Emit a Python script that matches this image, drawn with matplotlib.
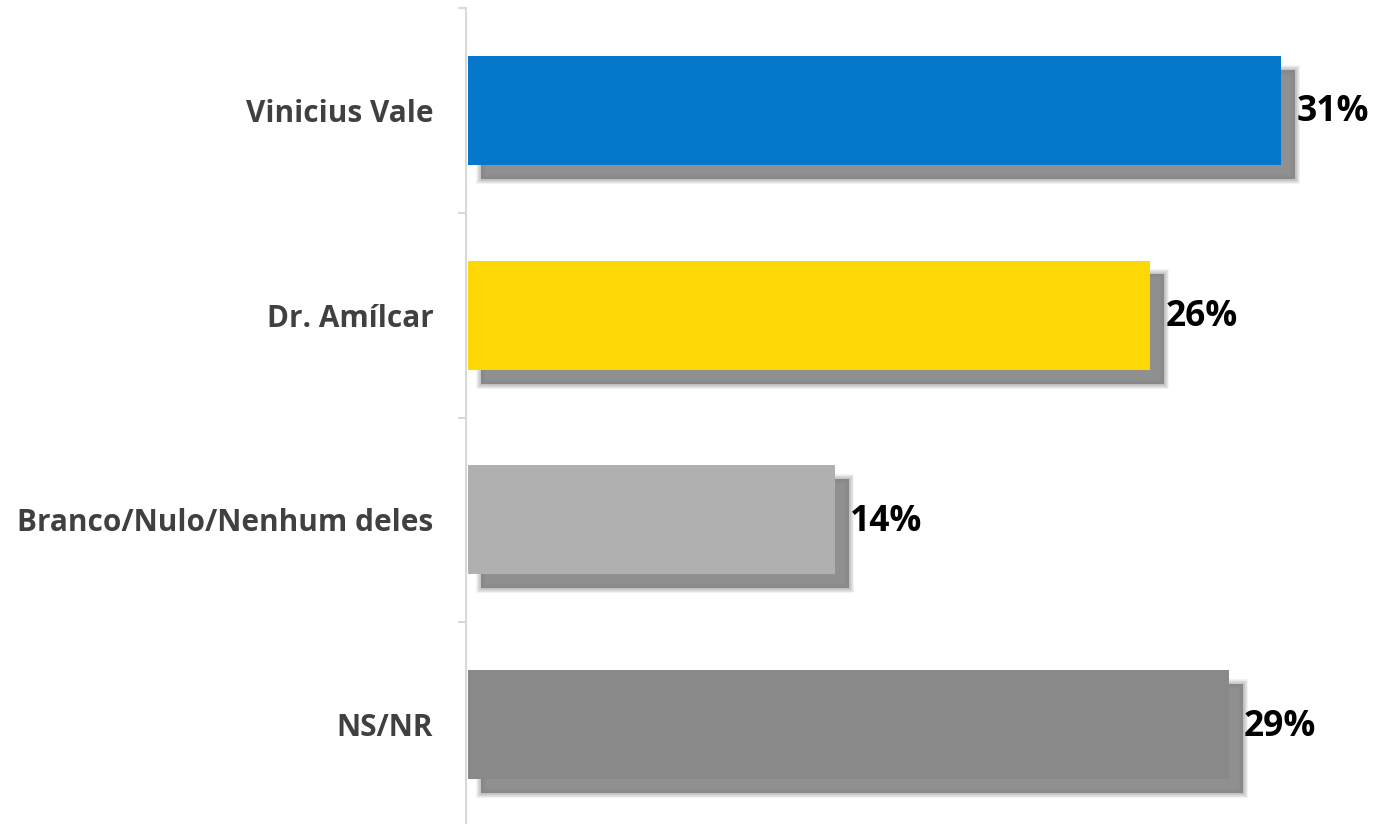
import matplotlib
matplotlib.use("Agg")
import matplotlib.pyplot as plt
import matplotlib.patheffects as pe

categories = ["Vinicius Vale", "Dr. Amílcar", "Branco/Nulo/Nenhum deles", "NS/NR"]
values = [31, 26, 14, 29]
colors = ["#0678CC", "#FDD806", "#B0B0B0", "#898989"]
value_labels = ["31%", "26%", "14%", "29%"]

fig = plt.figure(figsize=(13.73, 8.24), dpi=100)
ax = fig.add_axes([466 / 1373, -3 / 824, (1360 - 466) / 1373, 819 / 824])

shadow_effects = []
for w in [7, 6, 5, 4, 3, 2, 1]:
    shadow_effects.append(pe.SimpleLineShadow(offset=(10, -10), shadow_color="#6e6e6e",
                                              alpha=0.07, rho=1.0, linewidth=w))
shadow_effects.append(pe.SimplePatchShadow(offset=(10, -10), shadow_rgbFace="#7d7d7d", alpha=0.85))
shadow_effects.append(pe.Normal())

ypos = list(range(len(categories)))
bars = ax.barh(ypos, values, height=0.533, color=colors, zorder=3)
for b in bars:
    b.set_path_effects(shadow_effects)

for y, v, lab in zip(ypos, values, value_labels):
    ax.annotate(lab, xy=(v, y), xytext=(11, -1.5), textcoords="offset points",
                ha="left", va="center", fontsize=25.5, fontweight="bold",
                family="Open Sans", color="black")

ax.set_xlim(-0.06, 34)
ax.set_ylim(3.5, -0.5)
ax.set_yticks(ypos)
ax.set_yticklabels(categories, fontsize=21.4, fontweight="bold", family="Open Sans", color="#404040")
ax.set_yticks([-0.5, 0.5, 1.5, 2.5, 3.5], minor=True)
ax.tick_params(axis="y", which="major", length=0, pad=23.5)
ax.tick_params(axis="y", which="minor", length=6, width=1.5, color="#D9D9D9")
ax.set_xticks([])
for s in ["top", "right", "bottom"]:
    ax.spines[s].set_visible(False)
ax.spines["left"].set_color("#D9D9D9")
ax.spines["left"].set_linewidth(1.5)

fig.savefig("out.png", dpi=100)
